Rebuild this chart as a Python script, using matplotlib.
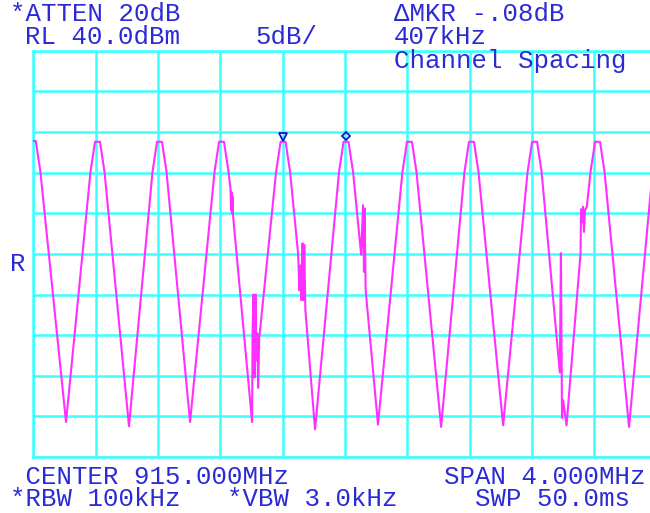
import numpy as np
import matplotlib.pyplot as plt

# trace readings off the screen: frequency in MHz, level in dBm
start_mhz, start_dbm = 913.000, 28.9
end_mhz = [916.974, 917.000]
end_dbm = [25.1, 27.8]

peak_mhz = [913.000, 913.412, 913.810, 914.208, 914.603, 915.007,
            915.414, 915.812, 916.217, 916.621]
peak_dbm = [28.9, 28.8, 28.8, 28.8, 28.8, 28.8, 28.8, 28.8, 28.8, 28.8]

trough_mhz = [913.210, 913.614, 914.006, 914.404, 914.808,
              915.212, 915.617, 916.015, 916.422, 916.823]
trough_dbm = [-5.7, -6.2, -5.7, -5.7, -6.6, -6.0, -6.3, -6.1, -6.1, -6.3]

# rounded lobe tops (offset from peak in kHz, drop below peak in dB)
top_khz = [-45, -26, -16, 16, 26, 45]
top_drop_db = [3.7, 1.3, 0.0, 0.0, 1.3, 3.7]

# spurious spikes on the slopes
glitch_mhz = [914.266, 914.269, 914.272, 914.275, 914.278, 914.282,
              914.407, 914.413, 914.420, 914.426, 914.431, 914.438, 914.443, 914.450,
              914.699, 914.708, 914.715, 914.721, 914.728, 914.734, 914.739, 914.746,
              915.104, 915.116, 915.122, 915.126, 915.133,
              916.379, 916.386, 916.393, 916.400,
              916.512, 916.515, 916.522, 916.528, 916.534, 916.541, 916.552]
glitch_dbm = [22.9, 20.4, 22.6, 20.0, 22.1, 19.7,
              5.2, 10.0, -0.2, 10.0, 1.9, 5.2, -1.5, 4.6,
              15.1, 10.5, 13.6, 9.3, 16.3, 9.3, 16.1, 8.1,
              14.9, 21.0, 12.8, 20.6, 10.5,
              0.4, 15.1, -5.2, -3.0,
              15.1, 20.5, 18.9, 20.8, 17.7, 20.4, 20.8]

marker_mhz = [914.603, 915.007]
marker_dbm = [29.4, 29.5]

# build the trace
pts = [(start_mhz, start_dbm)]
for p, lv in zip(peak_mhz, peak_dbm):
    for dk, dd in zip(top_khz, top_drop_db):
        f = p + dk / 1000.0
        if f > start_mhz:
            pts.append((f, lv - dd))
pts += list(zip(trough_mhz, trough_dbm))
pts += list(zip(glitch_mhz, glitch_dbm))
pts += list(zip(end_mhz, end_dbm))
pts.sort()
trace_f = [p[0] for p in pts]
trace_l = [p[1] for p in pts]

cyan = '#3cffff'
magenta = '#ff30ff'
blue = '#2b2bd6'

W, H = 650, 513
fig = plt.figure(figsize=(W / 100, H / 100), dpi=100)
fig.patch.set_facecolor('white')
ax = fig.add_axes([33.3 / W, 56 / H, 623.3 / W, 406.2 / H])

ax.set_xlim(913, 917)
ax.set_ylim(-10, 40)
ax.set_xticks(np.arange(913, 917.01, 0.4))
ax.set_yticks(np.arange(-10, 40.1, 5))
ax.tick_params(length=0, labelbottom=False, labelleft=False)
ax.grid(True, color=cyan, lw=1.8)
for s in ax.spines.values():
    s.set_color(cyan)
    s.set_linewidth(1.8)

ax.plot(trace_f, trace_l, color=magenta, lw=1.5, zorder=3)
ax.plot(marker_mhz[0], marker_dbm[0], marker='v', ms=6, mfc='none',
        mec='#1414c8', mew=1.3, zorder=4, clip_on=False)
ax.plot(marker_mhz[1], marker_dbm[1], marker='D', ms=4.5, mfc='none',
        mec='#1414c8', mew=1.3, zorder=4, clip_on=False)

# screen annotations on a monospace character grid
cell = 15.36
x0 = 10
font = dict(family=['Liberation Mono', 'DejaVu Sans Mono'], size=18.5,
            color=blue, va='baseline', ha='left')
labels = [
    ('*ATTEN 20dB', 0, 21), ('\u0394MKR -.08dB', 25, 21),
    ('RL 40.0dBm', 1, 44), ('5dB/', 16, 44), ('407kHz', 25, 44),
    ('Channel Spacing', 25, 68),
    ('R', 0, 271),
]
for s, col, yb in labels:
    fig.text((x0 + col * cell) / W, 1 - yb / H, s, **font)

# the two status lines under the graticule share one character block
status = (' CENTER 915.000MHz          SPAN 4.000MHz\n'
          '*RBW 100kHz   *VBW 3.0kHz     SWP 50.0ms')
fig.text(x0 / W, 1 - 506 / H, status, linespacing=0.9, **font)

fig.savefig('out.png', dpi=100)
